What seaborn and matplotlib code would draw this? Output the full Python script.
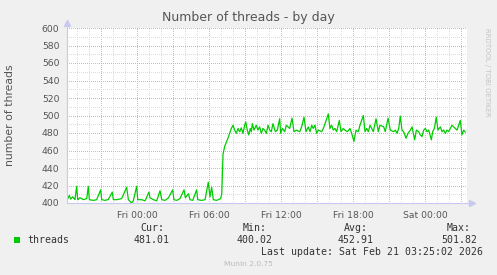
import matplotlib
matplotlib.use("Agg")
import matplotlib.pyplot as plt
from matplotlib.ticker import MultipleLocator, FuncFormatter
from matplotlib.patches import Rectangle
from matplotlib.lines import Line2D
import numpy as np
import pandas as pd
import seaborn as sns

# ---------------- data (hours relative to Fri 00:00) ----------------
hours_before = [-5.83, -5.81, -5.64, -5.53, -5.36, -5.17, -5.03, -4.94, -4.75, -4.47,
                -4.19, -4.06, -3.97, -3.64, -3.36, -3.03, -2.94, -2.67, -2.39, -2.06,
                -1.97, -1.69, -1.28, -0.86, -0.72, -0.44, -0.31, -0.03, 0.06, 0.39,
                0.67, 1.0, 1.08, 1.36, 1.64, 1.92, 2.06, 2.33, 2.61, 2.97,
                3.08, 3.31, 3.58, 3.92, 4.03, 4.28, 4.42, 4.64, 4.97, 5.06,
                5.39, 5.67, 5.94, 6.08, 6.22, 6.36, 6.64, 6.97, 7.06]
threads_before = [401.0, 403.8, 408.7, 404.5, 407.0, 403.8, 419.0, 403.8, 406.0, 403.8,
                  405.0, 419.0, 403.8, 403.0, 403.8, 415.0, 403.8, 403.0, 404.0, 412.5,
                  403.8, 403.8, 405.0, 418.0, 403.8, 400.0, 402.5, 419.0, 403.8, 403.8,
                  402.5, 412.5, 406.0, 403.8, 402.5, 414.0, 403.8, 403.0, 405.7, 415.0,
                  403.8, 403.0, 405.0, 415.0, 406.0, 410.6, 403.8, 403.0, 415.0, 403.8,
                  403.0, 403.8, 423.8, 407.0, 418.0, 403.8, 403.0, 405.0, 410.0]

hours_after = [7.17, 7.31, 7.58, 7.72, 7.86, 8.0, 8.14, 8.28, 8.42, 8.56,
               8.69, 8.83, 8.97, 9.06, 9.19, 9.31, 9.44, 9.53, 9.61, 9.75,
               9.94, 10.08, 10.22, 10.36, 10.5, 10.64, 10.78, 10.92, 11.06, 11.19,
               11.33, 11.53, 11.69, 11.89, 11.97, 12.11, 12.31, 12.44, 12.58, 12.72,
               12.92, 13.08, 13.28, 13.56, 13.72, 13.92, 14.08, 14.28, 14.42, 14.56,
               14.69, 14.83, 14.97, 15.11, 15.39, 15.53, 15.67, 15.94, 16.08, 16.22,
               16.36, 16.5, 16.64, 16.86, 17.0, 17.19, 17.33, 17.53, 17.75, 17.89,
               18.08, 18.25, 18.44, 18.58, 18.86, 19.0, 19.14, 19.28, 19.42, 19.56,
               19.69, 19.92, 20.11, 20.25, 20.56, 20.69, 20.92, 21.11, 21.39, 21.53,
               21.67, 21.81, 21.94, 22.08, 22.22, 22.42, 22.58, 22.78, 22.92, 23.06,
               23.14, 23.28, 23.47, 23.61, 23.75, 23.89, 24.03, 24.17, 24.31, 24.53,
               24.64, 24.78, 24.94, 25.08, 25.28, 25.42, 25.56, 25.69, 25.83, 25.97,
               26.25, 26.39, 26.53, 26.67, 26.94, 27.08, 27.22, 27.36]
threads_after = [456.0, 464.8, 474.0, 479.6, 485.2, 488.9, 483.3, 479.6, 485.2, 481.5,
                 485.9, 479.6, 488.9, 492.6, 483.3, 477.8, 485.2, 481.5, 490.7, 483.3,
                 488.9, 483.3, 487.0, 479.6, 485.2, 483.3, 479.6, 488.9, 483.3, 481.5,
                 490.7, 481.5, 483.3, 496.3, 479.6, 485.2, 481.5, 488.9, 487.0, 485.2,
                 497.0, 481.5, 483.3, 481.5, 487.0, 498.1, 481.5, 487.0, 481.5, 488.9,
                 485.2, 488.9, 479.6, 483.3, 481.5, 485.2, 490.7, 501.8, 485.2, 488.9,
                 483.3, 485.2, 481.5, 494.4, 481.5, 485.2, 483.3, 481.5, 485.2, 479.6,
                 470.4, 483.3, 481.5, 488.9, 500.0, 481.5, 485.2, 481.5, 488.9, 485.2,
                 481.5, 496.3, 481.5, 488.9, 487.0, 481.5, 497.0, 483.3, 481.5, 483.3,
                 479.6, 485.2, 499.3, 483.3, 481.5, 474.0, 479.6, 483.3, 487.0, 477.8,
                 472.2, 483.3, 481.5, 477.8, 475.9, 483.3, 485.2, 481.5, 483.3, 472.2,
                 481.5, 485.2, 498.1, 483.3, 487.0, 481.5, 483.3, 479.6, 483.3, 481.5,
                 488.9, 487.0, 485.2, 483.3, 494.4, 477.8, 483.3, 481.0]

x_tick_hours = [0, 6, 12, 18, 24]
x_tick_labels = ["Fri 00:00", "Fri 06:00", "Fri 12:00", "Fri 18:00", "Sat 00:00"]
series_name = "threads"
stat_headers = ["Cur:", "Min:", "Avg:", "Max:"]
stat_values = ["481.01", "400.02", "452.91", "501.82"]
title_text = "Number of threads - by day"
ylabel_text = "number of threads"
last_update_text = "Last update: Sat Feb 21 03:25:02 2026"
footer_text = "Munin 2.0.75"
watermark_text = "RRDTOOL / TOBI OETIKER"

# ---------------- figure ----------------
sns.set_theme(style="white")
plt.rcParams["font.family"] = ["DejaVu Sans"]
plt.rcParams["lines.scale_dashes"] = False

W, H = 497, 275
BG = "#F0F0F0"
TXT = "#555555"
fig = plt.figure(figsize=(W / 100, H / 100), dpi=100, facecolor=BG)
ax = fig.add_axes([67 / W, 72 / H, 400 / W, 175 / H])
ax.set_facecolor("white")

df = pd.DataFrame({"hour": hours_before + hours_after,
                   "threads": threads_before + threads_after})
sns.lineplot(data=df, x="hour", y="threads", ax=ax, color="#00CC00",
             linewidth=0.9, estimator=None, legend=False, zorder=5)

ax.set_xlim(-5.8333, 27.5)
ax.set_ylim(400, 600)
ax.set_xlabel("")
ax.set_ylabel("")

ax.xaxis.set_major_locator(MultipleLocator(3))
ax.xaxis.set_minor_locator(MultipleLocator(1))
ax.yaxis.set_major_locator(MultipleLocator(20))
ax.yaxis.set_minor_locator(MultipleLocator(10))

lab = dict(zip(x_tick_hours, x_tick_labels))


def xfmt(v, pos):
    r = int(round(v))
    if abs(v - r) < 1e-6 and r in lab:
        return lab[r]
    return ""


ax.xaxis.set_major_formatter(FuncFormatter(xfmt))
ax.yaxis.set_major_formatter(FuncFormatter(lambda v, p: f"{v:.0f}"))

dot = (0, (0.5, 0.94))
ax.set_axisbelow(True)
ax.grid(which="minor", color="#DCDCDC", linestyle=dot, linewidth=0.72,
        antialiased=False)
ax.grid(which="major", color="#F4A8A8", linestyle=dot, linewidth=0.72,
        antialiased=False)

ax.tick_params(axis="both", which="major", direction="out", length=2.5,
               width=0.7, color="#F08080", labelsize=6.7, labelcolor=TXT)
ax.tick_params(axis="both", which="minor", direction="out", length=1.5,
               width=0.7, color="#C8C8C8")
ax.tick_params(axis="x", which="major", pad=3)
ax.tick_params(axis="y", which="major", pad=3)

for s in ax.spines.values():
    s.set_visible(False)

axis_col = "#C8C8F0"
ax.add_line(Line2D([0, 0], [0, 1 + 4 / 175], transform=ax.transAxes,
                   color=axis_col, lw=0.8, clip_on=False, zorder=6))
ax.add_line(Line2D([0, 1 + 4 / 400], [0, 0], transform=ax.transAxes,
                   color=axis_col, lw=0.8, clip_on=False, zorder=6))
ax.plot([0], [1 + 5 / 175], marker="^", markersize=4, color=axis_col,
        transform=ax.transAxes, clip_on=False, zorder=6)
ax.plot([1 + 5 / 400], [0], marker=">", markersize=4, color=axis_col,
        transform=ax.transAxes, clip_on=False, zorder=6)

# ---------------- texts ----------------
def fx(px):
    return px / W


def fy(py):
    return 1 - py / H


fig.text(fx(248), fy(17), title_text, ha="center", va="center",
         fontsize=9, color=TXT)
fig.text(fx(10), fy(115), ylabel_text, ha="center", va="center",
         rotation=90, fontsize=7.8, color=TXT)
fig.text(fx(487), fy(28), watermark_text, ha="center", va="top",
         rotation=270, fontsize=5, color="#C4C4C4")

mono = "DejaVu Sans Mono"
centers = [152, 255, 356, 459]
for cx, hdr, val in zip(centers, stat_headers, stat_values):
    fig.text(fx(cx), fy(228), hdr, ha="center", va="center",
             fontsize=7.1, family=mono, color="#333333")
    fig.text(fx(cx), fy(240), val, ha="center", va="center",
             fontsize=7.1, family=mono, color="#333333")

fig.patches.append(Rectangle((fx(14), fy(243)), 6 / W, 6 / H,
                             transform=fig.transFigure, facecolor="#00CC00",
                             edgecolor="#00CC00", lw=0))
fig.text(fx(27), fy(240), series_name, ha="left", va="center",
         fontsize=7.1, family=mono, color="#333333")
fig.text(fx(483), fy(252), last_update_text, ha="right", va="center",
         fontsize=7.1, family=mono, color="#333333")
fig.text(fx(248), fy(264), footer_text, ha="center", va="center",
         fontsize=5.4, color="#BBBBBB")

fig.savefig("out.png", dpi=100, facecolor=BG)
